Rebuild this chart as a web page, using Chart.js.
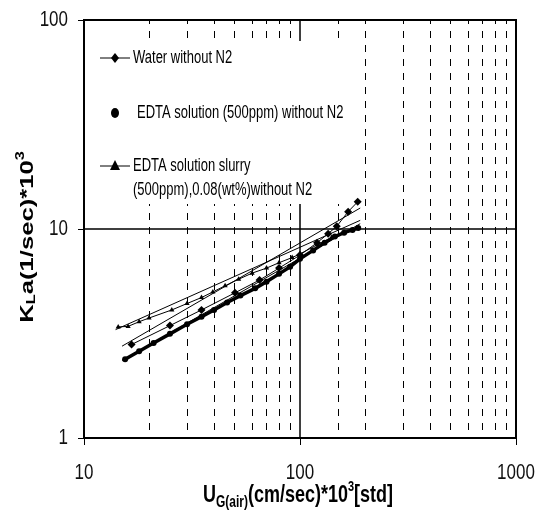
<!DOCTYPE html>
<html>
<head>
<meta charset="utf-8">
<script src="https://cdn.jsdelivr.net/npm/chart.js@4/dist/chart.umd.min.js"></script>
<style>
  html, body { margin: 0; padding: 0; background: #fff; }
  #wrap { width: 538px; height: 520px; }
</style>
</head>
<body>
<div id="wrap"><canvas id="kla" width="538" height="520"></canvas></div>
<script>
// Water without N2 (diamonds)
const waterX = [16.6, 25, 35, 50, 65, 80, 100, 120, 135, 148, 167, 185];
const waterY = [2.8, 3.45, 4.1, 4.95, 5.7, 6.5, 7.5, 8.6, 9.5, 10.3, 12.1, 13.5];

// EDTA solution (500ppm) without N2 (circles)
const edtaX = [15.5, 18, 21, 25, 30, 35, 40, 46, 53, 62, 70, 80, 90, 100, 115, 130, 145, 160, 175, 186];
const edtaY = [2.38, 2.6, 2.85, 3.15, 3.5, 3.8, 4.1, 4.45, 4.8, 5.2, 5.6, 6.1, 6.6, 7.2, 7.9, 8.6, 9.2, 9.6, 9.9, 10.1];

// EDTA solution slurry (triangles)
const slurryX = [14.4, 16, 18, 20, 25.5, 30, 35, 39.5, 45, 52, 60, 70, 80, 92, 100, 120, 140, 160, 183];
const slurryY = [3.4, 3.42, 3.6, 3.75, 4.1, 4.4, 4.7, 5.0, 5.35, 5.75, 6.15, 6.5, 6.9, 7.3, 7.6, 8.4, 9.1, 9.6, 10.1];

// thin trend lines (end points)
const trendX = [15, 190];
const trendWaterY = [2.75, 12.6];
const trendEdtaY = [2.35, 10.6];
const trendSlurryX = [14, 190];
const trendSlurryY = [3.3, 11.0];

const xTickLabels = [10, 100, 1000];
const yTickLabels = [1, 10, 100];

const FONT = '"Liberation Sans", Arial, sans-serif';
const STRETCH = 1.35; // the source picture is stretched vertically

function pts(xs, ys) {
  return xs.map((x, i) => ({ x, y: ys[i] }));
}
function isMajor(v) {
  const l = Math.log10(v);
  return Math.abs(l - Math.round(l)) < 1e-6;
}

// text squeezed like the original (taller than wide)
function tallText(ctx, text, x, y, font, align) {
  ctx.save();
  ctx.translate(x, y);
  ctx.scale(1, STRETCH);
  ctx.font = font;
  ctx.textAlign = align || 'left';
  ctx.textBaseline = 'middle';
  ctx.fillText(text, 0, 0);
  ctx.restore();
}

// draws pieces with sub / superscripts, centred on x
function drawRich(ctx, parts, x, y) {
  let w = 0;
  parts.forEach(p => {
    ctx.font = 'bold ' + p.size + 'px ' + FONT;
    p.w = ctx.measureText(p.t).width;
    w += p.w;
  });
  let cx = x - w / 2;
  ctx.textAlign = 'left';
  ctx.textBaseline = 'alphabetic';
  parts.forEach(p => {
    ctx.font = 'bold ' + p.size + 'px ' + FONT;
    ctx.fillText(p.t, cx, y + (p.dy || 0));
    cx += p.w;
  });
}

function marker(ctx, kind, x, y) {
  ctx.beginPath();
  if (kind === 'diamond') {
    ctx.moveTo(x, y - 5); ctx.lineTo(x + 4, y); ctx.lineTo(x, y + 5); ctx.lineTo(x - 4, y);
  } else if (kind === 'circle') {
    ctx.ellipse(x, y, 4, 5, 0, 0, Math.PI * 2);
  } else {
    ctx.moveTo(x, y - 6); ctx.lineTo(x + 5, y + 4); ctx.lineTo(x - 5, y + 4);
  }
  ctx.closePath();
  ctx.fill();
}

const framePlugin = {
  id: 'frame',
  beforeDatasetsDraw(chart) {
    const { ctx, chartArea: a, scales } = chart;
    ctx.save();
    ctx.strokeStyle = '#000';
    ctx.lineWidth = 1.5;
    const x100 = scales.x.getPixelForValue(100);
    const y10 = scales.y.getPixelForValue(10);
    ctx.beginPath();
    ctx.moveTo(x100, a.top); ctx.lineTo(x100, a.bottom);
    ctx.moveTo(a.left, y10); ctx.lineTo(a.right, y10);
    ctx.stroke();
    // legend box hides the grid behind it
    ctx.fillStyle = '#fff';
    ctx.fillRect(a.left + 2, 41, 274, 163);
    ctx.lineWidth = 2;
    ctx.strokeRect(a.left, a.top, a.right - a.left, a.bottom - a.top);
    ctx.restore();
  },
  afterDraw(chart) {
    const { ctx, scales } = chart;
    ctx.save();
    ctx.fillStyle = '#111';

    // tick labels
    const tickFont = '17px ' + FONT;
    xTickLabels.forEach(v => tallText(ctx, String(v), scales.x.getPixelForValue(v), 473, tickFont, 'center'));
    yTickLabels.forEach(v => tallText(ctx, String(v), 68, scales.y.getPixelForValue(v), tickFont, 'right'));

    ctx.fillStyle = '#000';
    // x axis title
    ctx.save();
    ctx.translate(298, 502);
    ctx.scale(1, STRETCH);
    drawRich(ctx, [
      { t: 'U', size: 18 },
      { t: 'G(air)', size: 12, dy: 4 },
      { t: '(cm/sec)*10', size: 18 },
      { t: '3', size: 11, dy: -8 },
      { t: '[std]', size: 18 }
    ], 0, 0);
    ctx.restore();

    // y axis title
    ctx.save();
    ctx.translate(33, 237);
    ctx.rotate(-Math.PI / 2);
    ctx.scale(STRETCH, 1);
    drawRich(ctx, [
      { t: 'K', size: 19 },
      { t: 'L', size: 12, dy: 2 },
      { t: 'a(1/sec)*10', size: 19 },
      { t: '3', size: 12, dy: -9 }
    ], 0, 0);
    ctx.restore();

    // legend
    const legFont = '13px ' + FONT;
    ctx.strokeStyle = '#000';
    ctx.lineWidth = 1;
    ctx.beginPath();
    ctx.moveTo(100, 58); ctx.lineTo(130, 58);
    ctx.moveTo(100, 166); ctx.lineTo(130, 166);
    ctx.stroke();
    marker(ctx, 'diamond', 115, 58);
    marker(ctx, 'circle', 115, 113);
    marker(ctx, 'triangle', 115, 166);
    tallText(ctx, 'Water without N2', 133, 58, legFont);
    tallText(ctx, 'EDTA solution (500ppm) without N2', 137, 113, legFont);
    tallText(ctx, 'EDTA solution slurry', 133, 166, legFont);
    tallText(ctx, '(500ppm),0.08(wt%)without N2', 133, 190, legFont);
    ctx.restore();
  }
};

const lineDs = (data, extra) => Object.assign({
  data,
  showLine: true,
  borderColor: '#000',
  backgroundColor: '#000',
  borderWidth: 1,
  pointBorderWidth: 0
}, extra);

new Chart(document.getElementById('kla'), {
  type: 'scatter',
  data: {
    datasets: [
      lineDs(pts(trendX, trendWaterY), { pointRadius: 0 }),
      lineDs(pts(trendX, trendEdtaY), { pointRadius: 0 }),
      lineDs(pts(trendSlurryX, trendSlurryY), { pointRadius: 0 }),
      lineDs(pts(waterX, waterY), { label: 'Water without N2', pointStyle: 'rectRot', pointRadius: 4 }),
      lineDs(pts(edtaX, edtaY), { label: 'EDTA solution (500ppm) without N2', pointStyle: 'circle', pointRadius: 3, borderWidth: 3.5 }),
      lineDs(pts(slurryX, slurryY), { label: 'EDTA solution slurry (500ppm),0.08(wt%)without N2', pointStyle: 'triangle', pointRadius: 3 })
    ]
  },
  options: {
    responsive: false,
    animation: false,
    layout: { padding: { top: 20, right: 22, left: 0, bottom: 0 } },
    plugins: { legend: { display: false }, tooltip: { enabled: false } },
    scales: {
      x: {
        type: 'logarithmic',
        min: 10,
        max: 1000,
        afterFit: s => { s.height = 82; },
        border: { display: false, dash: [7, 7], dashOffset: 3 },
        grid: {
          color: c => (c.tick && !isMajor(c.tick.value)) ? '#000' : 'rgba(0,0,0,0)',
          tickColor: c => (c.tick && isMajor(c.tick.value)) ? '#000' : 'rgba(0,0,0,0)',
          tickLength: 7,
          lineWidth: 1
        },
        ticks: { autoSkip: false, maxRotation: 0, callback: () => '' }
      },
      y: {
        type: 'logarithmic',
        min: 1,
        max: 100,
        afterFit: s => { s.width = 84; },
        border: { display: false },
        grid: {
          color: 'rgba(0,0,0,0)',
          tickColor: c => (c.tick && isMajor(c.tick.value)) ? '#000' : 'rgba(0,0,0,0)',
          tickLength: 6,
          lineWidth: 1
        },
        ticks: { autoSkip: false, callback: () => '' }
      }
    }
  },
  plugins: [framePlugin]
});
</script>
</body>
</html>
